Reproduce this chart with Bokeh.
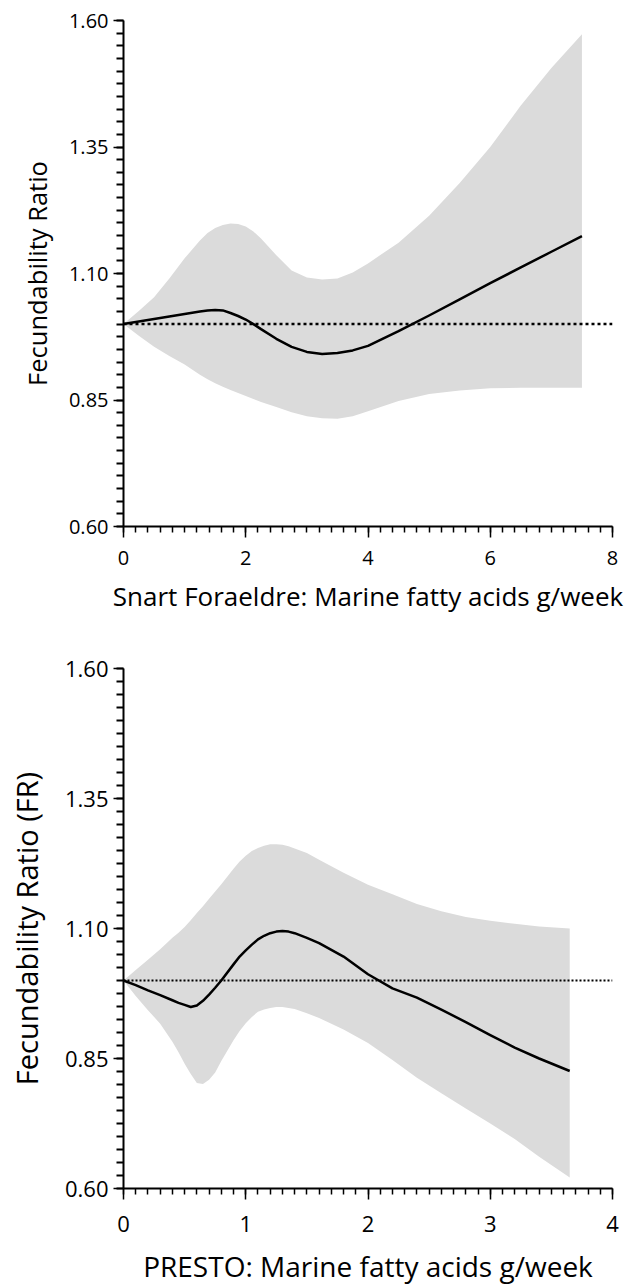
from bokeh.plotting import figure
from bokeh.layouts import column
from bokeh.models import Range1d, FixedTicker, NumeralTickFormatter, Span
from bokeh.embed import file_html
from bokeh.resources import INLINE

# ---- Data: Snart Foraeldre ----
sf_x = [0, 0.25, 0.5, 0.75, 1.0, 1.25, 1.375, 1.5, 1.625, 1.75, 1.875, 2.0,
        2.125, 2.25, 2.5, 2.75, 3.0, 3.25, 3.5, 3.75, 4.0, 4.5, 5.0, 5.5, 6.0,
        6.5, 7.0, 7.5]
sf_fr = [1.000, 1.005, 1.010, 1.015, 1.020, 1.025, 1.027, 1.028, 1.027, 1.022,
         1.016, 1.009, 1.000, 0.990, 0.971, 0.955, 0.945, 0.941, 0.943, 0.948,
         0.957, 0.986, 1.017, 1.049, 1.081, 1.112, 1.143, 1.174]
sf_upper = [1.000, 1.026, 1.053, 1.090, 1.130, 1.165, 1.180, 1.190, 1.196, 1.199,
            1.198, 1.193, 1.183, 1.169, 1.136, 1.106, 1.092, 1.088, 1.090, 1.102,
            1.120, 1.161, 1.214, 1.279, 1.350, 1.432, 1.506, 1.573]
sf_lower = [1.000, 0.977, 0.955, 0.937, 0.920, 0.900, 0.891, 0.883, 0.876, 0.870,
            0.864, 0.858, 0.852, 0.846, 0.836, 0.826, 0.818, 0.814, 0.813, 0.818,
            0.828, 0.848, 0.862, 0.869, 0.873, 0.874, 0.874, 0.874]

# ---- Data: PRESTO ----
pr_x = [0, 0.1, 0.2, 0.3, 0.4, 0.45, 0.5, 0.55, 0.6, 0.65, 0.7, 0.75, 0.8, 0.9,
        0.95, 1.0, 1.05, 1.1, 1.15, 1.2, 1.25, 1.3, 1.35, 1.4, 1.5, 1.6, 1.8,
        2.0, 2.2, 2.4, 2.6, 2.8, 3.0, 3.2, 3.4, 3.65]
pr_fr = [1.000, 0.991, 0.981, 0.972, 0.962, 0.957, 0.953, 0.949, 0.952, 0.961,
         0.973, 0.986, 1.000, 1.031, 1.046, 1.058, 1.069, 1.079, 1.086, 1.091,
         1.094, 1.095, 1.094, 1.091, 1.082, 1.072, 1.046, 1.012, 0.985, 0.967,
         0.944, 0.920, 0.895, 0.871, 0.850, 0.826]
pr_upper = [1.000, 1.020, 1.040, 1.060, 1.082, 1.092, 1.103, 1.116, 1.130, 1.143,
            1.157, 1.171, 1.185, 1.215, 1.229, 1.240, 1.249, 1.255, 1.259, 1.262,
            1.262, 1.261, 1.258, 1.254, 1.245, 1.232, 1.207, 1.184, 1.166, 1.147,
            1.133, 1.122, 1.115, 1.109, 1.104, 1.100]
pr_lower = [1.000, 0.970, 0.943, 0.917, 0.882, 0.862, 0.840, 0.820, 0.803, 0.801,
            0.809, 0.823, 0.845, 0.885, 0.903, 0.918, 0.930, 0.940, 0.944, 0.947,
            0.949, 0.949, 0.947, 0.945, 0.937, 0.928, 0.906, 0.880, 0.847, 0.813,
            0.783, 0.754, 0.725, 0.695, 0.661, 0.621]

y_major = [0.60, 0.85, 1.10, 1.35, 1.60]
y_minor = [0.6 + 0.025 * i for i in range(41)]

FONT = "Open Sans"
BAND = "#dbdbdb"


def make_plot(x, fr, up, lo, xmax, x_major, x_minor, xlabel, ylabel,
              width, height, mb, tick_size, xtitle_size, ytitle_size, dot_dash, dot_w,
              x_lab_standoff, y_lab_standoff, x_title_standoff, y_title_standoff):
    p = figure(width=width, height=height, output_backend="svg",
               toolbar_location=None, x_range=Range1d(0, xmax),
               y_range=Range1d(0.6, 1.6),
               min_border_left=mb[0], min_border_right=mb[1],
               min_border_top=mb[2], min_border_bottom=mb[3])
    p.outline_line_color = None
    p.grid.visible = False
    p.background_fill_color = "white"
    p.border_fill_color = "white"

    p.varea(x=x, y1=lo, y2=up, fill_color=BAND, fill_alpha=1.0)
    p.add_layout(Span(location=1.0, dimension="width", line_color="black",
                      line_width=dot_w, line_dash=dot_dash))
    p.line(x, fr, line_color="black", line_width=2.5, line_join="round")

    for ax in (p.xaxis[0], p.yaxis[0]):
        ax.axis_line_width = 2
        ax.axis_line_color = "black"
        ax.major_tick_line_width = 1.5
        ax.minor_tick_line_width = 1.5
        ax.major_tick_line_color = "black"
        ax.minor_tick_line_color = "black"
        ax.major_tick_in = 0
        ax.minor_tick_in = 0
        ax.major_tick_out = 10
        ax.minor_tick_out = 6
        ax.major_label_text_font = FONT
        ax.major_label_text_font_size = f"{tick_size}px"
        ax.major_label_text_color = "black"
        ax.axis_label_text_font = FONT
        ax.axis_label_text_font_style = "normal"
        ax.axis_label_text_color = "black"

    p.yaxis.minor_tick_out = 7
    p.yaxis.minor_tick_line_width = 2
    p.xaxis.axis_label_text_font_size = f"{xtitle_size}px"
    p.yaxis.axis_label_text_font_size = f"{ytitle_size}px"
    p.xaxis.ticker = FixedTicker(ticks=x_major, minor_ticks=x_minor)
    p.yaxis.ticker = FixedTicker(ticks=y_major, minor_ticks=y_minor)
    p.yaxis.formatter = NumeralTickFormatter(format="0.00")
    p.xaxis.major_tick_out = 11
    p.xaxis.axis_label = xlabel
    p.yaxis.axis_label = ylabel
    p.xaxis.major_label_standoff = x_lab_standoff
    p.yaxis.major_label_standoff = y_lab_standoff
    p.xaxis.axis_label_standoff = x_title_standoff
    p.yaxis.axis_label_standoff = y_title_standoff
    return p


p1 = make_plot(sf_x, sf_fr, sf_upper, sf_lower, 8,
               [0, 2, 4, 6, 8], [0.2 * i for i in range(41)],
               "Snart Foraeldre: Marine fatty acids g/week",
               "Fecundability Ratio",
               636, 645, (123, 24, 20, 119), 20, 26, 25.5, "3 3", 2.5,
               13, 5, 10, 12)

p2 = make_plot(pr_x, pr_fr, pr_upper, pr_lower, 4,
               [0, 1, 2, 3, 4], [0.1 * i for i in range(41)],
               "PRESTO: Marine fatty acids g/week",
               "Fecundability Ratio (FR)",
               636, 642, (114, 8, 23, 89), 22, 28, 29, "2 2", 2,
               16, 5, 12, 16)

layout = column(p1, p2)
open("out.html", "w").write(file_html(layout, INLINE))
